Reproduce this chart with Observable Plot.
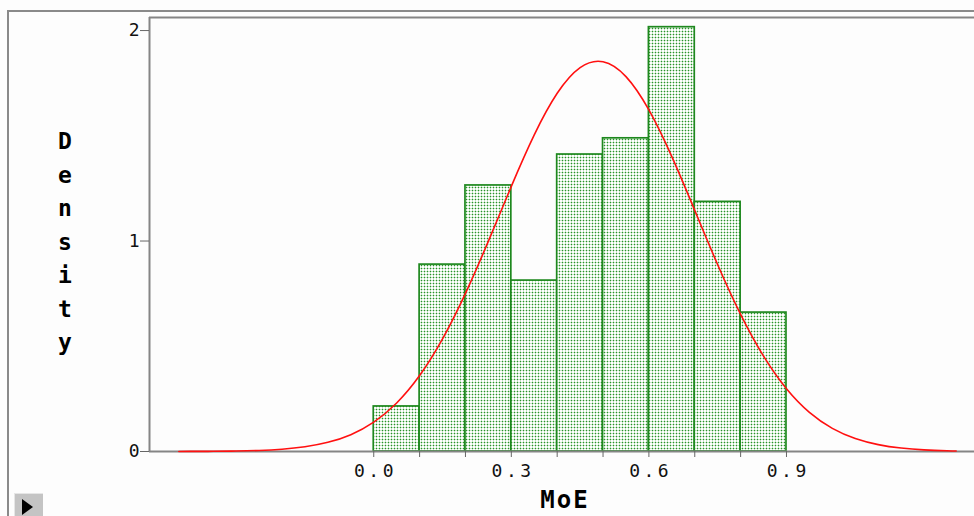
<!DOCTYPE html>
<html>
<head>
<meta charset="utf-8">
<script src="https://cdn.jsdelivr.net/npm/d3@7"></script>
<script src="https://cdn.jsdelivr.net/npm/@observablehq/plot@0.6"></script>
<style>
  html, body { margin: 0; padding: 0; background: #fdfdfd; }
  #wrap { position: relative; width: 974px; height: 516px; overflow: hidden; }
  #frame { position: absolute; left: 7px; top: 10px; right: -4px; bottom: -4px;
           border-left: 2px solid #8a8a8a; border-top: 2px solid #8a8a8a; pointer-events: none; }
  #ylabel { position: absolute; left: 50px; top: 125px; width: 30px; text-align: center;
            font-family: "DejaVu Sans Mono", monospace; font-weight: bold; font-size: 23px;
            line-height: 33.5px; color: #000; }
  #xlabel { position: absolute; left: 465px; width: 200px; top: 486px; text-align: center;
            font-family: "DejaVu Sans Mono", monospace; font-weight: bold; font-size: 24px;
            letter-spacing: 2px; color: #000; }
  #btn { position: absolute; left: 14px; top: 493px; width: 29px; height: 26px;
         background: #c4c4c4; border-top: 1px solid #e6e6e6; border-left: 1px solid #e6e6e6;
         box-sizing: border-box; }
  #btn::after { content: ""; position: absolute; left: 7px; top: 5px; width: 0; height: 0;
                border-top: 8px solid transparent; border-bottom: 8px solid transparent;
                border-left: 11px solid #000; }
  svg text { fill: #111; }
</style>
</head>
<body>
<div id="wrap">
  <div id="chart"></div>
  <div id="frame"></div>
  <div id="ylabel">D<br>e<br>n<br>s<br>i<br>t<br>y</div>
  <div id="xlabel">MoE</div>
  <div id="btn"></div>
</div>
<script>
// Histogram bins (MoE) and densities
const binLo = [0.0, 0.1, 0.2, 0.3, 0.4, 0.5, 0.6, 0.7, 0.8];
const binHi = [0.1, 0.2, 0.3, 0.4, 0.5, 0.6, 0.7, 0.8, 0.9];
const density = [0.214, 0.888, 1.264, 0.812, 1.411, 1.488, 2.016, 1.186, 0.66];

// Fitted normal curve
const curveX = [-0.425, -0.4, -0.35, -0.3, -0.25, -0.2, -0.15, -0.1, -0.05, 0.0, 0.05, 0.1, 0.15, 0.2, 0.25,
                0.3, 0.35, 0.4, 0.45, 0.5, 0.55, 0.6, 0.65, 0.7, 0.75, 0.8, 0.85, 0.9, 0.95, 1.0,
                1.05, 1.1, 1.15, 1.2, 1.25, 1.27];
const curveY = [0.0002, 0.0004, 0.0009, 0.0022, 0.0050, 0.0109, 0.0224, 0.0435, 0.0800, 0.1396, 0.2305, 0.3608,
                0.5349, 0.7512, 0.9995, 1.2598, 1.5043, 1.7018, 1.8238, 1.8516, 1.7810, 1.6227, 1.4007, 1.1454,
                0.8873, 0.6513, 0.4528, 0.2983, 0.1861, 0.1100, 0.0616, 0.0327, 0.0164, 0.0078, 0.0035, 0.0025];

// Axis ticks
const xMinorTicks = [0.0, 0.1, 0.2, 0.3, 0.4, 0.5, 0.6, 0.7, 0.8, 0.9];
const xLabelTicks = [0.0, 0.3, 0.6, 0.9];
const yTicks = [0, 1, 2];

const xDomain = [-0.489, 1.31];
const yDomain = [0, 2.062];

const bars = binLo.map((lo, i) => ({lo, hi: binHi[i], d: density[i]}));
const curve = curveX.map((x, i) => ({x, y: curveY[i]}));

const gray = "#858585";

const plot = Plot.plot({
  width: 974,
  height: 516,
  marginLeft: 149,
  marginRight: 0,
  marginTop: 17,
  marginBottom: 65,
  style: {fontFamily: "DejaVu Sans Mono, monospace", fontSize: "18px", background: "transparent", overflow: "visible"},
  x: {domain: xDomain, label: null},
  y: {domain: yDomain, label: null},
  marks: [
    Plot.rectY(bars, {x1: "lo", x2: "hi", y: "d", fill: "url(#dots)", stroke: "#1e881e", strokeWidth: 1.7}),
    Plot.ruleY([yDomain[1]], {stroke: gray, strokeWidth: 2}),
    Plot.ruleX([xDomain[0]], {stroke: gray, strokeWidth: 2}),
    Plot.ruleY([0], {stroke: gray, strokeWidth: 2}),
    Plot.axisX({ticks: xMinorTicks, tickSize: 6, tickFormat: () => "", stroke: "#666", label: null}),
    Plot.axisX({ticks: xLabelTicks, tickSize: 0, tickPadding: 13, tickFormat: d3.format(".1f"), label: null, className: "xlab"}),
    Plot.axisY({ticks: yTicks, tickSize: 9, tickPadding: 1, tickFormat: d3.format("d"), stroke: "#666", label: null}),
    Plot.line(curve, {x: "x", y: "y", stroke: "#ff1010", strokeWidth: 1.6, curve: "natural"})
  ]
});

// dotted/grid fill pattern for bars
const ns = "http://www.w3.org/2000/svg";
const defs = document.createElementNS(ns, "defs");
defs.innerHTML = `<pattern id="dots" width="3" height="3" patternUnits="userSpaceOnUse">
  <rect width="3" height="3" fill="#ffffff"></rect>
  <rect x="0" y="1" width="3" height="1" fill="#c3e3c3"></rect>
  <rect x="1" y="0" width="1" height="3" fill="#c3e3c3"></rect>
  <rect x="1" y="1" width="1" height="1" fill="#2a912a"></rect>
</pattern>`;
plot.insertBefore(defs, plot.firstChild);

// letter-spaced x tick labels like the original
plot.querySelectorAll(".xlab text").forEach(t => {
  t.style.letterSpacing = "3.5px";
  t.setAttribute("dx", "1.75");
});
document.getElementById("chart").appendChild(plot);
</script>
</body>
</html>
